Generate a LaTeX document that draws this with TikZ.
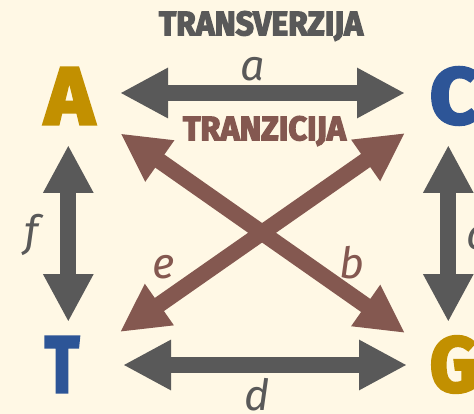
\documentclass[tikz,border=0pt]{standalone}
\usepackage{fontspec}
\setmainfont{Fira Sans}
\newfontfamily\heavyfam{Fira Sans}[BoldFeatures={FakeBold=4}]
\newcommand\heavy{\heavyfam\bfseries}
\usetikzlibrary{arrows.meta}
\definecolor{bg}{HTML}{FFF8E5}
\definecolor{gr}{HTML}{595959}
\definecolor{br}{HTML}{845850}
\definecolor{gold}{HTML}{C29000}
\definecolor{blu}{HTML}{2D5597}
\begin{document}
\begin{tikzpicture}[x=1pt,y=-1pt,
  tip/.tip={Triangle[width=47pt,length=48pt]},
  dbl/.style={line width=16pt,{tip}-{tip}},
  title/.style={inner sep=0pt,anchor=center},
  lbl/.style={inner sep=0pt,anchor=base,font=\fontsize{43}{43}\selectfont\itshape},
  letter/.style={inner sep=0pt,anchor=center}]
\fill[bg] (0,0) rectangle (474,414);
\useasboundingbox (0,0) rectangle (474,414);
% titles
\node[title,text=gr] (tv) at (261,26) {\resizebox{204pt}{24pt}{\heavy TRANSVERZIJA}};
\node[title,text=br] (tz) at (264.5,131) {\resizebox{163pt}{24pt}{\heavy TRANZICIJA}};
% letters
\node[letter,text=gold] (A) at (69.5,96) {\resizebox{49pt}{56pt}{\heavy A}};
\node[letter,text=blu] (C) at (454,96) {\resizebox{48pt}{56pt}{\heavy C}};
\node[letter,text=blu] (T) at (62,364.5) {\resizebox{34pt}{55pt}{\heavy T}};
\node[letter,text=gold] (G) at (454,364.5) {\resizebox{48pt}{55pt}{\heavy G}};
% arrow ends
\coordinate (aL) at (120,93);  \coordinate (aR) at (405,93);
\coordinate (dL) at (123,365); \coordinate (dR) at (407,365);
\coordinate (fT) at (68.3,145); \coordinate (fB) at (68.3,322);
\coordinate (cT) at (448.3,145); \coordinate (cB) at (448.3,322);
\coordinate (bTL) at (120.5,133.5); \coordinate (bBR) at (405,333);
\coordinate (eTR) at (405,133); \coordinate (eBL) at (120,332);
% arrows
\draw[dbl,gr] (aL) -- (aR);
\draw[dbl,gr] (dL) -- (dR);
\draw[dbl,gr] (fT) -- (fB);
\draw[dbl,gr] (cT) -- (cB);
\draw[dbl,br] (bTL) -- (bBR);
\draw[dbl,br] (eTR) -- (eBL);
% labels
\node[lbl,text=gr] (la) at (253,81) {a};
\node[lbl,text=gr] (lf) at (32,247) {f};
\node[lbl,text=gr] (lc) at (477,250) {c};
\node[lbl,text=gr] (ld) at (257.5,410) {d};
\node[lbl,text=br] (le) at (164,278) {e};
\node[lbl,text=br] (lb) at (352,278) {b};
\end{tikzpicture}
\end{document}
